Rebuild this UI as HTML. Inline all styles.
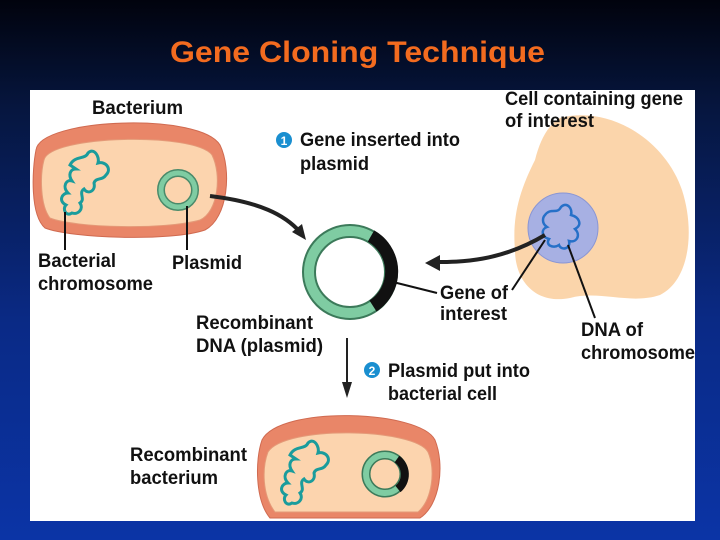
<!DOCTYPE html>
<html><head><meta charset="utf-8"><style>
html,body{margin:0;padding:0}
body{width:720px;height:540px;overflow:hidden;background:linear-gradient(180deg,#01030d 0%,#06163f 20%,#0a2a86 60%,#0b34a6 100%);position:relative;font-family:"Liberation Sans",sans-serif}
.t{font-family:"Liberation Sans",sans-serif;font-weight:bold;font-size:19px;fill:#111}
</style></head><body>
<svg style="position:absolute;left:0;top:0" width="720" height="540">
<text x="170" y="62" textLength="375" lengthAdjust="spacingAndGlyphs" font-family="Liberation Sans" font-size="30" font-weight="bold" fill="#f36b1f">Gene Cloning Technique</text>
<rect x="30" y="90" width="665" height="431" fill="#fff"/>
<path d="M36,150 C40,118 200,112 220,145 C232,170 228,218 205,230 C170,242 70,238 45,228 C30,215 32,170 36,150Z" fill="#e98668" stroke="#d06a50"/>
<path d="M44,160 C50,135 195,132 212,155 C222,175 218,212 200,220 C165,230 75,228 50,218 C40,205 40,175 44,160Z" fill="#fcd4ae" stroke="#e49a78"/>
<path d="M70,165 c5,-10 15,-5 18,-12 c6,-6 12,4 10,10 c8,-2 14,6 8,12 c-4,6 -10,2 -12,8 c2,8 -6,12 -10,6 c-6,4 2,10 -4,14 c4,6 -2,12 -8,10 c-6,4 -10,-4 -6,-8 c-8,-4 -4,-12 2,-12 c-6,-6 -2,-14 4,-12 c-4,-6 -2,-12 4,-12Z" fill="none" stroke="#1a9c9c" stroke-width="3"/>
<circle cx="178" cy="190" r="17" fill="none" stroke="#4a8a6a" stroke-width="8"/>
<circle cx="178" cy="190" r="17" fill="none" stroke="#7fcca2" stroke-width="5"/>
<line x1="65" y1="212" x2="65" y2="250" stroke="#111" stroke-width="2"/>
<line x1="187" y1="206" x2="187" y2="250" stroke="#111" stroke-width="2"/>
<path d="M210,196 C260,202 285,215 300,232" fill="none" stroke="#222" stroke-width="4"/>
<polygon points="306,240 292,232 302,224" fill="#222"/>
<circle cx="350" cy="272" r="41" fill="none" stroke="#3c7a5a" stroke-width="14"/>
<circle cx="350" cy="272" r="41" fill="none" stroke="#7fcca2" stroke-width="10"/>
<path d="M371,236 A41,41 0 0 1 373,306" fill="none" stroke="#111" stroke-width="13"/>
<line x1="393" y1="282" x2="437" y2="293" stroke="#111" stroke-width="2"/>
<path d="M560,118 C610,105 665,140 682,190 C695,230 690,280 660,295 C630,305 600,290 570,298 C535,305 515,280 515,250 C512,215 520,190 535,160 C540,140 548,125 560,118Z" fill="#fbd0a2" opacity="0.9"/>
<circle cx="563" cy="228" r="35" fill="#a7b0e3" stroke="#8a96d4"/>
<path d="M545,215 c6,-8 12,0 16,-8 c6,-6 12,2 10,8 c8,2 12,10 4,14 c6,6 2,14 -6,12 c2,8 -8,10 -10,4 c-6,4 -14,0 -10,-6 c-8,-2 -8,-10 -2,-12 c-6,-4 -4,-10 -2,-12Z" fill="none" stroke="#2670c8" stroke-width="2.5"/>
<path d="M545,235 C500,262 460,262 435,262" fill="none" stroke="#222" stroke-width="4"/>
<polygon points="425,263 440,255 440,271" fill="#222"/>
<line x1="512" y1="290" x2="545" y2="240" stroke="#111" stroke-width="2"/>
<line x1="568" y1="245" x2="595" y2="318" stroke="#111" stroke-width="2"/>
<line x1="347" y1="338" x2="347" y2="385" stroke="#222" stroke-width="2"/>
<polygon points="342,382 352,382 347,398" fill="#222"/>
<path d="M262,440 C280,405 420,410 435,440 C445,465 440,505 420,518 L270,518 C255,500 255,460 262,440Z" fill="#e98668" stroke="#d06a50"/>
<path d="M268,452 C285,425 415,428 428,452 C436,470 432,500 418,512 L275,512 C262,495 262,468 268,452Z" fill="#fcd4ae" stroke="#e49a78"/>
<path d="M290,455 c5,-10 15,-5 18,-12 c6,-6 12,4 10,10 c8,-2 14,6 8,12 c-4,6 -10,2 -12,8 c2,8 -6,12 -10,6 c-6,4 2,10 -4,14 c4,6 -2,12 -8,10 c-6,4 -10,-4 -6,-8 c-8,-4 -4,-12 2,-12 c-6,-6 -2,-14 4,-12 c-4,-6 -2,-12 4,-12Z" fill="none" stroke="#1a9c9c" stroke-width="3"/>
<circle cx="385" cy="474" r="19" fill="none" stroke="#3c7a5a" stroke-width="9"/>
<circle cx="385" cy="474" r="19" fill="none" stroke="#7fcca2" stroke-width="6"/>
<path d="M397,459 A19,19 0 0 1 398,489" fill="none" stroke="#111" stroke-width="8"/>
<circle cx="284" cy="140" r="8" fill="#1a8fd0"/><text x="284" y="145" font-size="12" font-weight="bold" fill="#fff" text-anchor="middle" font-family="Liberation Sans">1</text>
<circle cx="372" cy="370" r="8" fill="#1a8fd0"/><text x="372" y="375" font-size="12" font-weight="bold" fill="#fff" text-anchor="middle" font-family="Liberation Sans">2</text>
<text class="t" x="92" y="114" textLength="91" lengthAdjust="spacingAndGlyphs">Bacterium</text>
<text class="t" x="38" y="267" textLength="78" lengthAdjust="spacingAndGlyphs">Bacterial</text>
<text class="t" x="38" y="290" textLength="115" lengthAdjust="spacingAndGlyphs">chromosome</text>
<text class="t" x="172" y="269" textLength="70" lengthAdjust="spacingAndGlyphs">Plasmid</text>
<text class="t" x="300" y="146" textLength="160" lengthAdjust="spacingAndGlyphs">Gene inserted into</text>
<text class="t" x="300" y="170" textLength="69" lengthAdjust="spacingAndGlyphs">plasmid</text>
<text class="t" x="505" y="105" textLength="178" lengthAdjust="spacingAndGlyphs">Cell containing gene</text>
<text class="t" x="505" y="127" textLength="89" lengthAdjust="spacingAndGlyphs">of interest</text>
<text class="t" x="440" y="299" textLength="68" lengthAdjust="spacingAndGlyphs">Gene of</text>
<text class="t" x="440" y="320" textLength="67" lengthAdjust="spacingAndGlyphs">interest</text>
<text class="t" x="581" y="336" textLength="62" lengthAdjust="spacingAndGlyphs">DNA of</text>
<text class="t" x="581" y="359" textLength="114" lengthAdjust="spacingAndGlyphs">chromosome</text>
<text class="t" x="196" y="329" textLength="117" lengthAdjust="spacingAndGlyphs">Recombinant</text>
<text class="t" x="196" y="352" textLength="127" lengthAdjust="spacingAndGlyphs">DNA (plasmid)</text>
<text class="t" x="388" y="377" textLength="142" lengthAdjust="spacingAndGlyphs">Plasmid put into</text>
<text class="t" x="388" y="400" textLength="109" lengthAdjust="spacingAndGlyphs">bacterial cell</text>
<text class="t" x="130" y="461" textLength="117" lengthAdjust="spacingAndGlyphs">Recombinant</text>
<text class="t" x="130" y="484" textLength="88" lengthAdjust="spacingAndGlyphs">bacterium</text>
</svg>
</body></html>
